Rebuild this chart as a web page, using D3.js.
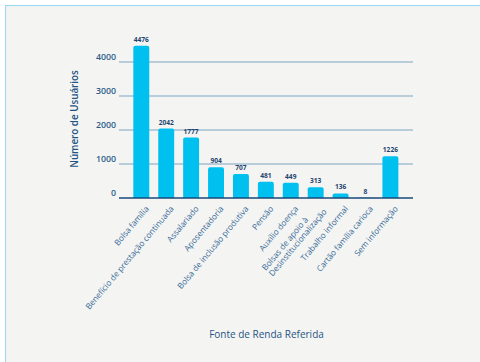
<!DOCTYPE html>
<html>
<head>
<meta charset="utf-8">
<script src="https://cdn.jsdelivr.net/npm/d3@7"></script>
<style>
  html, body { margin: 0; padding: 0; background: #ffffff; }
  svg { display: block; }
  text { font-family: "Open Sans", "Noto Sans", sans-serif; }
</style>
</head>
<body>
<svg id="chart" width="480" height="362"></svg>
<script>
// Fonte de renda referida pelos usuários
const categories = [
  ["Bolsa família"],
  ["Benefício de prestação continuada"],
  ["Assalariado"],
  ["Aposentadoria"],
  ["Bolsa de inclusão produtiva"],
  ["Pensão"],
  ["Auxílio doença"],
  ["Bolsas de apoio à", "Desinstitucionalização"],
  ["Trabalho informal"],
  ["Cartão família carioca"],
  ["Sem informação"]
];
const usuarios = [4476, 2042, 1777, 904, 707, 481, 449, 313, 136, 8, 1226];
const yTicks = [0, 1000, 2000, 3000, 4000];

const svg = d3.select("#chart");

// panel
svg.append("rect")
  .attr("x", 5.5).attr("y", 5.5)
  .attr("width", 490).attr("height", 380)
  .attr("fill", "#f4f4f2")
  .attr("stroke", "#a3d9ef")
  .attr("stroke-width", 1.2);

const plot = { left: 119, right: 413, base: 198 };

const x = d3.scaleBand()
  .domain(d3.range(categories.length))
  .range([128.85, 402.85])
  .paddingInner(0.36)
  .paddingOuter(0.18);

const y = d3.scaleLinear()
  .domain([0, 4000])
  .range([plot.base, 62]);

// grid lines
svg.append("g")
  .selectAll("line")
  .data(yTicks.filter(d => d > 0))
  .join("line")
  .attr("x1", plot.left).attr("x2", plot.right)
  .attr("y1", d => y(d)).attr("y2", d => y(d))
  .attr("stroke", "#7fa4c2")
  .attr("stroke-width", 1);

// y axis labels
const yAxis = d3.axisLeft(y).tickValues(yTicks).tickFormat(d3.format("d"))
  .tickSize(0).tickPadding(3);
const gy = svg.append("g").attr("transform", `translate(${plot.left},0)`).call(yAxis);
gy.select(".domain").remove();
gy.selectAll("text")
  .attr("dy", "-0.3em")
  .attr("fill", "#2b5c8a")
  .style("font-size", "8.8px")
  .style("font-weight", "600");

// bars with rounded tops
function barPath(d, i) {
  const x0 = x(i), w = x.bandwidth();
  const y0 = y(d), h = plot.base - y0;
  const r = Math.min(2, h / 2, w / 2);
  return `M${x0},${plot.base}V${y0 + r}Q${x0},${y0} ${x0 + r},${y0}` +
         `H${x0 + w - r}Q${x0 + w},${y0} ${x0 + w},${y0 + r}V${plot.base}Z`;
}
svg.append("g")
  .selectAll("path")
  .data(usuarios)
  .join("path")
  .attr("d", barPath)
  .attr("fill", "#00c0f0");

// value labels
svg.append("g")
  .selectAll("text")
  .data(usuarios)
  .join("text")
  .attr("x", (d, i) => x(i) + x.bandwidth() / 2)
  .attr("y", d => y(d) - 4)
  .attr("text-anchor", "middle")
  .attr("fill", "#1d4570")
  .style("font-size", "6.6px")
  .style("font-weight", "700")
  .text(d => d);

// baseline
svg.append("line")
  .attr("x1", plot.left).attr("x2", plot.right)
  .attr("y1", plot.base).attr("y2", plot.base)
  .attr("stroke", "#1a4a78")
  .attr("stroke-width", 1.6);

// category labels, rotated
const ang = -50;
const labelColor = "#3a6d9a";
const labelSize = "8.2px";
const lab = svg.append("g")
  .selectAll("g")
  .data(categories)
  .join("g")
  .attr("transform", (d, i) => `translate(${x(i) + x.bandwidth() / 2 + 8},209) rotate(${ang})`);

lab.each(function(lines) {
  const g = d3.select(this);
  if (lines.length === 1) {
    g.append("text")
      .attr("text-anchor", "end")
      .attr("fill", labelColor)
      .style("font-size", labelSize)
      .text(lines[0]);
  } else {
    const last = g.append("text")
      .attr("text-anchor", "end")
      .attr("y", 4.5)
      .attr("fill", labelColor)
      .style("font-size", labelSize)
      .text(lines[1]);
    const w = last.node().getComputedTextLength();
    g.append("text")
      .attr("text-anchor", "start")
      .attr("x", -w)
      .attr("y", -4.5)
      .attr("fill", labelColor)
      .style("font-size", labelSize)
      .text(lines[0]);
  }
});

// axis titles
svg.append("text")
  .attr("transform", "translate(78,119) rotate(-90)")
  .attr("text-anchor", "middle")
  .attr("fill", "#1f5585")
  .style("font-size", "9.8px")
  .style("font-weight", "600")
  .text("Número de Usuários");

svg.append("text")
  .attr("x", 266.5).attr("y", 338)
  .attr("text-anchor", "middle")
  .attr("fill", "#1f5585")
  .style("font-size", "10px")
  .style("font-weight", "500")
  .text("Fonte de Renda Referida");
</script>
</body>
</html>
